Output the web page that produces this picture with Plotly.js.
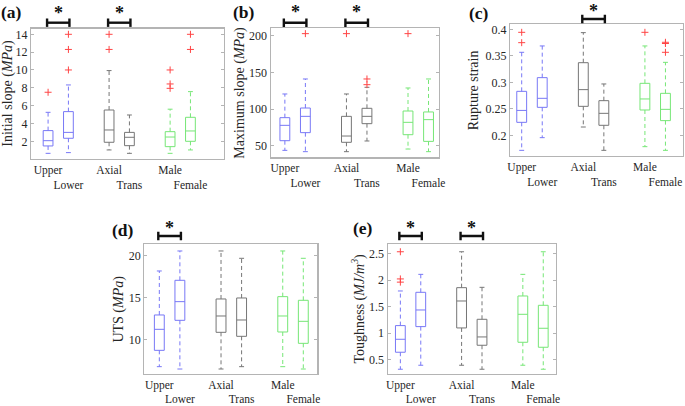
<!DOCTYPE html>
<html><head><meta charset="utf-8">
<script src="https://cdn.plot.ly/plotly-3.0.1.min.js"></script>
<style>html,body{margin:0;padding:0;background:#fff;} #chart{width:685px;height:406px;}</style>
</head><body><div id="chart"></div>
<script>
// ---------- DATA ----------
const categories = ['Upper','Lower','Axial','Trans','Male','Female'];

// (a) Initial slope (MPa)
const initQ1  = [1.48, 2.34, 1.89, 1.51, 1.40, 2.00];
const initMed = [2.07, 3.00, 3.27, 2.45, 2.48, 3.16];
const initQ3  = [3.20, 5.33, 5.51, 3.00, 3.08, 4.69];
const initLo  = [0.65, 0.73, 1.03, 0.65, 0.65, 1.03];
const initHi  = [5.25, 8.32, 9.93, 4.95, 5.60, 7.57];
const initOut = [[7.5], [14.0, 12.3, 10.0], [14.0, 12.3], [], [10.0, 8.43, 7.94], [14.0, 12.3]];
const initSig = [['Upper','Lower'], ['Axial','Trans']];

// (b) Maximum slope (MPa)
const maxQ1  = [56.8, 67.8, 54.6, 80.1, 65.0, 55.9];
const maxMed = [77.8, 90.1, 63.2, 90.1, 81.9, 85.6];
const maxQ3  = [88.3, 101.5, 90.1, 101.1, 97.4, 96.1];
const maxLo  = [43.6, 41.8, 41.8, 56.4, 45.4, 41.8];
const maxHi  = [120.7, 141.2, 120.7, 129.8, 128.9, 141.2];
const maxOut = [[], [203.2], [203.2], [141.2, 133.4], [203.2], []];
const maxSig = [['Upper','Lower'], ['Axial','Trans']];

// (c) Rupture strain
const rupQ1  = [0.2245, 0.2528, 0.2547, 0.2189, 0.2478, 0.2277];
const rupMed = [0.247, 0.2698, 0.2862, 0.2415, 0.2686, 0.249];
const rupQ3  = [0.283, 0.3088, 0.337, 0.2654, 0.2981, 0.2792];
const rupLo  = [0.1717, 0.1956, 0.2157, 0.1717, 0.1786, 0.1717];
const rupHi  = [0.3566, 0.3686, 0.3937, 0.2969, 0.3686, 0.3377];
const rupOut = [[0.3943, 0.3748], [], [], [], [0.3943], [0.3755, 0.3732, 0.3566]];
const rupSig = [['Axial','Trans']];

// (d) UTS (MPa)
const utsQ1  = [8.68, 12.28, 10.84, 10.36, 10.88, 9.52];
const utsMed = [11.2, 14.52, 12.8, 12.32, 12.8, 12.16];
const utsQ3  = [12.92, 17.08, 14.84, 14.96, 15.12, 14.68];
const utsLo  = [6.72, 6.44, 6.44, 6.72, 6.72, 6.44];
const utsHi  = [18.2, 20.6, 20.6, 19.72, 20.6, 19.72];
const utsOut = [[], [], [], [], [], []];
const utsSig = [['Upper','Lower']];

// (e) Toughness (MJ/m^3)
const tghQ1  = [0.644, 1.125, 1.10, 0.775, 0.831, 0.7375];
const tghMed = [0.8875, 1.4375, 1.606, 0.931, 1.356, 1.094];
const tghQ3  = [1.144, 1.769, 1.856, 1.2625, 1.70, 1.525];
const tghLo  = [0.325, 0.40, 0.40, 0.325, 0.40, 0.325];
const tghHi  = [1.794, 2.106, 2.53, 1.8625, 2.106, 2.53];
const tghOut = [[2.53, 2.02, 1.96], [], [], [], [], []];
const tghSig = [['Upper','Lower'], ['Axial','Trans']];

// ---------- LAYOUT / STYLE ----------
const W = 685, H = 406;
const positions = [1, 2, 4, 5, 7, 8];
const boxColors = ['#7878f6', '#7878f6', '#767676', '#767676', '#76e676', '#76e676'];
const outColor = '#ff4545';
const serif = 'Liberation Serif';
const tickLabels = categories.map((c, i) => (i % 2 === 0 ? c : ' <br>' + c));

const panels = [
  {q1: initQ1, med: initMed, q3: initQ3, lo: initLo, hi: initHi, out: initOut, sig: initSig,
   title: 'Initial slope (<i>MPa</i>)', letter: '(a)', frame: [31, 224, 28.5, 159],
   xr: [0.16, 9.65], yr: [0.015, 14.65], tickvals: [2, 4, 6, 8, 10, 12, 14],
   letterPos: [11, 11.5], titleX: 8, barOff: 5.8, starOff: 15.8},
  {q1: maxQ1, med: maxMed, q3: maxQ3, lo: maxLo, hi: maxHi, out: maxOut, sig: maxSig,
   title: 'Maximum slope (<i>MPa</i>)', letter: '(b)', frame: [270.7, 439, 28, 157.3],
   xr: [0.31, 8.51], yr: [34.1, 210.9], tickvals: [50, 100, 150, 200],
   letterPos: [244, 11.8], titleX: 240, barOff: 5.3, starOff: 16.3},
  {q1: rupQ1, med: rupMed, q3: rupQ3, lo: rupLo, hi: rupHi, out: rupOut, sig: rupSig,
   title: 'Rupture strain', letter: '(c)', frame: [510, 682.7, 24, 156],
   xr: [0.43, 8.84], yr: [0.161, 0.41], tickvals: [0.2, 0.25, 0.3, 0.35, 0.4],
   letterPos: [479, 12.8], titleX: 473.3, barOff: 5, starOff: 13},
  {q1: utsQ1, med: utsMed, q3: utsQ3, lo: utsLo, hi: utsHi, out: utsOut, sig: utsSig,
   title: 'UTS (<i>MPa</i>)', letter: '(d)', frame: [144.3, 317.3, 244.3, 373.5],
   xr: [0.27, 8.68], yr: [5.9, 21.4], tickvals: [10, 15, 20],
   letterPos: [123, 230], titleX: 118.7, barOff: 8.3, starOff: 16.3},
  {q1: tghQ1, med: tghMed, q3: tghQ3, lo: tghLo, hi: tghHi, out: tghOut, sig: tghSig,
   title: 'Toughness (<i>MJ/m<sup>3</sup></i>)', letter: '(e)', frame: [387.7, 555.7, 244.3, 373.5],
   xr: [0.38, 8.61], yr: [0.245, 2.67], tickvals: [0.5, 1, 1.5, 2, 2.5],
   letterPos: [362.5, 228], titleX: 358.7, barOff: 8.3, starOff: 16.3}
];

const traces = [];
const layout = {
  width: W, height: H,
  margin: {l: 0, r: 0, t: 0, b: 0},
  paper_bgcolor: '#ffffff', plot_bgcolor: '#ffffff',
  showlegend: false, boxmode: 'overlay',
  font: {family: serif, size: 12, color: '#262626'},
  shapes: [], annotations: []
};

panels.forEach((p, k) => {
  const n = k === 0 ? '' : String(k + 1);
  const xa = 'x' + n, ya = 'y' + n;
  const [fl, fr, ft, fb] = p.frame;
  const hPx = fb - ft;

  layout['xaxis' + n] = {
    domain: [fl / W, fr / W], range: p.xr, anchor: ya,
    tickmode: 'array', tickvals: positions, ticktext: tickLabels, tickangle: 0,
    showline: true, mirror: true, linecolor: '#b4b4b4', linewidth: 1.2,
    ticks: '', showgrid: false, zeroline: false, fixedrange: true,
    tickfont: {family: serif, size: 11.5, color: '#262626'}
  };
  layout['yaxis' + n] = {
    domain: [1 - fb / H, 1 - ft / H], range: p.yr, anchor: xa,
    tickmode: 'array', tickvals: p.tickvals,
    showline: true, mirror: 'ticks', linecolor: '#b4b4b4', linewidth: 1.2,
    ticks: 'inside', ticklen: 3, tickcolor: '#b4b4b4', tickwidth: 1,
    showgrid: false, zeroline: false, fixedrange: true,
    tickfont: {family: serif, size: 12, color: '#262626'}
  };

  for (let g = 0; g < 3; g++) {
    const idx = [2 * g, 2 * g + 1];
    const col = boxColors[2 * g];
    const wx = [], wy = [], cx = [], cy = [];
    idx.forEach(i => {
      const x = positions[i];
      wx.push(x, x, null, x, x, null);
      wy.push(p.q3[i], p.hi[i], null, p.q1[i], p.lo[i], null);
      cx.push(x - 0.12, x + 0.12, null, x - 0.12, x + 0.12, null);
      cy.push(p.hi[i], p.hi[i], null, p.lo[i], p.lo[i], null);
    });
    traces.push({type: 'scatter', mode: 'lines', x: wx, y: wy, xaxis: xa, yaxis: ya,
      line: {color: col, width: 1, dash: '4px,3px'}, hoverinfo: 'skip', cliponaxis: false});
    traces.push({type: 'scatter', mode: 'lines', x: cx, y: cy, xaxis: xa, yaxis: ya,
      line: {color: col, width: 1}, hoverinfo: 'skip', cliponaxis: false});
    traces.push({type: 'box', x: idx.map(i => positions[i]),
      q1: idx.map(i => p.q1[i]), median: idx.map(i => p.med[i]), q3: idx.map(i => p.q3[i]),
      width: 0.48, whiskerwidth: 0, xaxis: xa, yaxis: ya,
      line: {color: col, width: 1}, fillcolor: 'rgba(0,0,0,0)', hoverinfo: 'skip'});
  }
  const ox = [], oy = [];
  p.out.forEach((vals, i) => vals.forEach(v => { ox.push(positions[i]); oy.push(v); }));
  if (ox.length) {
    traces.push({type: 'scatter', mode: 'markers', x: ox, y: oy, xaxis: xa, yaxis: ya,
      marker: {symbol: 'cross-thin', size: 5, color: outColor, line: {color: outColor, width: 1}},
      hoverinfo: 'skip', cliponaxis: false});
  }

  p.sig.forEach(pair => {
    const x1 = positions[categories.indexOf(pair[0])] - 0.05;
    const x2 = positions[categories.indexOf(pair[1])] + 0.05;
    const yb = 1 + p.barOff / hPx, dy = 4.2 / hPx;
    const ln = {color: '#111111', width: 2.4};
    layout.shapes.push({type: 'line', xref: xa, yref: ya + ' domain', x0: x1, x1: x2, y0: yb, y1: yb, line: ln});
    layout.shapes.push({type: 'line', xref: xa, yref: ya + ' domain', x0: x1, x1: x1, y0: yb - dy, y1: yb + dy, line: ln});
    layout.shapes.push({type: 'line', xref: xa, yref: ya + ' domain', x0: x2, x1: x2, y0: yb - dy, y1: yb + dy, line: ln});
    layout.annotations.push({xref: xa, yref: ya + ' domain', x: (x1 + x2) / 2, y: 1 + p.starOff / hPx,
      text: '<b>*</b>', showarrow: false, xanchor: 'center', yanchor: 'middle',
      font: {family: serif, size: 18, color: '#111111'}});
  });

  layout.annotations.push({xref: 'paper', yref: 'paper', x: p.letterPos[0] / W, y: 1 - p.letterPos[1] / H,
    text: '<b>' + p.letter + '</b>', showarrow: false, xanchor: 'center', yanchor: 'middle',
    font: {family: serif, size: 17.5, color: '#111111'}});
  layout.annotations.push({xref: 'paper', yref: ya + ' domain', x: p.titleX / W, y: 0.5,
    text: p.title, showarrow: false, textangle: -90, xanchor: 'center', yanchor: 'middle',
    font: {family: serif, size: 14, color: '#262626'}});
});

Plotly.newPlot('chart', traces, layout, {staticPlot: true, displayModeBar: false});
</script>
</body></html>
